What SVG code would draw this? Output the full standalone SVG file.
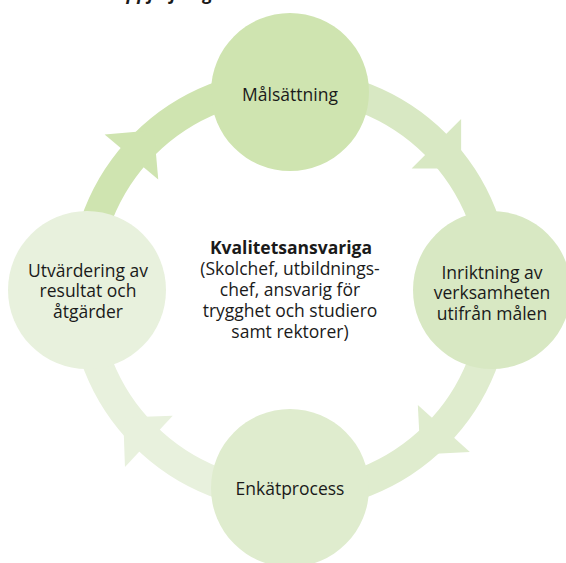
<svg xmlns="http://www.w3.org/2000/svg" width="566" height="563" viewBox="0 0 566 563">
  <style>
    .lbl { font-family: "Open Sans", "Liberation Sans", sans-serif; font-size: 17.5px; fill: #1a1a1a; text-anchor: middle; }
    .band { fill: none; stroke-width: 30; }
    .c1 { fill: #cfe4b0; } .s1 { stroke: #cfe4b0; }
    .c2 { fill: #d8e8c3; } .s2 { stroke: #d8e8c3; }
    .c3 { fill: #dfecce; } .s3 { stroke: #dfecce; }
    .c4 { fill: #e8f1dd; } .s4 { stroke: #e8f1dd; }
  </style>
  <defs>
    <polygon id="head" points="-35,0 35,0 0,35"/>
  </defs>
  <rect width="566" height="563" fill="#ffffff"/>
  <text x="114" y="-0.5" font-family="'Open Sans', 'Liberation Sans', sans-serif" font-size="18" font-style="italic" font-weight="bold" fill="#1a1a1a">Uppföljning</text>
  <g id="connectors">
    <path class="band s1" d="M84,290 A206,206 0 0 1 290,84"/>
    <path class="band s2" d="M290,84 A206,206 0 0 1 496,290"/>
    <path class="band s3" d="M496,290 A206,206 0 0 1 290,496"/>
    <path class="band s4" d="M290,496 A206,206 0 0 1 84,290"/>
    <use href="#head" class="c1" transform="translate(290,290) rotate(220) translate(207,0)"/>
    <use href="#head" class="c2" transform="translate(290,290) rotate(315) translate(207,0)"/>
    <use href="#head" class="c3" transform="translate(290,290) rotate(42) translate(207,0)"/>
    <use href="#head" class="c4" transform="translate(290,290) rotate(133) translate(207,0)"/>
  </g>
  <g id="node-top">
    <circle class="c1" cx="290" cy="92" r="79"/>
    <text class="lbl" x="290" y="101">Målsättning</text>
  </g>
  <g id="node-right">
    <circle class="c2" cx="492" cy="290" r="79"/>
    <text class="lbl"><tspan x="492" y="278.5">Inriktning av</tspan><tspan x="492" y="299">verksamheten</tspan><tspan x="492" y="319.5">utifrån målen</tspan></text>
  </g>
  <g id="node-bottom">
    <circle class="c3" cx="290" cy="488" r="79"/>
    <text class="lbl" x="290" y="495">Enkätprocess</text>
  </g>
  <g id="node-left">
    <circle class="c4" cx="87" cy="290" r="79"/>
    <text class="lbl"><tspan x="88" y="276.5">Utvärdering av</tspan><tspan x="88" y="297">resultat och</tspan><tspan x="88" y="317.5">åtgärder</tspan></text>
  </g>
  <g id="center">
    <text class="lbl"><tspan x="291" y="254" font-weight="bold">Kvalitetsansvariga</tspan><tspan x="290" y="275">(Skolchef, utbildnings-</tspan><tspan x="290" y="296">chef, ansvarig för</tspan><tspan x="290" y="317">trygghet och studiero</tspan><tspan x="290" y="337.5">samt rektorer)</tspan></text>
  </g>
</svg>
